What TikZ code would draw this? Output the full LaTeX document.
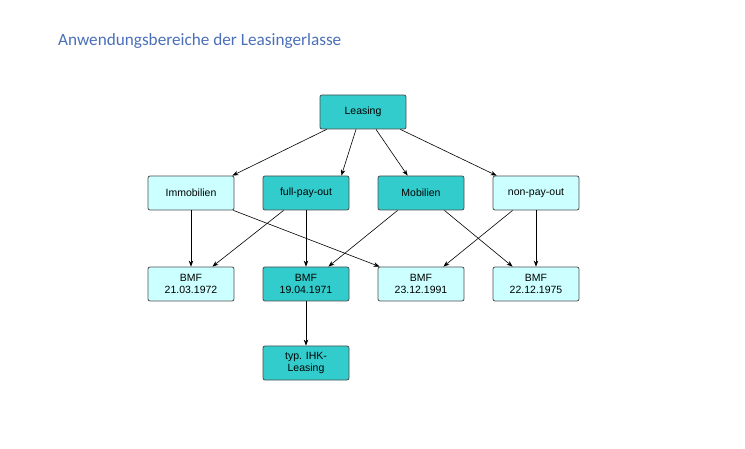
\documentclass[tikz,border=0pt]{standalone}
\usepackage{fontspec}
\setmainfont{Liberation Sans}
\newfontfamily\titlefont{Carlito}
\usepackage{xcolor}
\usetikzlibrary{arrows.meta,calc}
\definecolor{tealbox}{HTML}{33CCCC}
\definecolor{cyanbox}{HTML}{CCFFFF}
\definecolor{titleblue}{HTML}{4A6FB8}
\definecolor{rimgray}{HTML}{4D4D4D}

\begin{document}
\begin{tikzpicture}[x=1pt, y=-1pt,
    box/.style={draw=rimgray, line width=0.8pt, rounded corners=2pt,
      minimum width=86pt, minimum height=34pt, inner sep=1pt,
      align=center, font=\fontsize{10.5}{12.5}\selectfont},
    dark/.style={box, fill=tealbox},
    light/.style={box, fill=cyanbox},
    link/.style={-{Stealth[length=6pt,width=4.5pt]}, line width=0.6pt}]
    \useasboundingbox (0,0) rectangle (745,449);
    % title
    \node [anchor=base west, inner sep=0pt, text=titleblue,
      font=\titlefont\fontsize{17.2}{20}\selectfont] (title) at (58,46)
      {Anwendungsbereiche der Leasingerlasse};
    % boxes
    \node [dark] (leasing) at (363,112) {Leasing};
    \node [light] (immo) at (191,193) {Immobilien};
    \node [dark] (fpo) at (306,193) {full-pay-out};
    \node [dark] (mobil) at (421,193) {Mobilien};
    \node [light] (npo) at (536,193) {non-pay-out};
    \node [light] (bmfa) at (191,284) {BMF\\21.03.1972};
    \node [dark] (bmfb) at (306,284) {BMF\\19.04.1971};
    \node [light] (bmfc) at (421,284) {BMF\\23.12.1991};
    \node [light] (bmfd) at (536,284) {BMF\\22.12.1975};
    \node [dark] (ihk) at (306,363) {typ. IHK-\\Leasing};
    % arrows
    \draw [link] ($(leasing.south west)+(7,0)$) -- ($(immo.north east)+(-2,0)$);
    \draw [link] ($(leasing.south)+(-7,0)$) -- ($(fpo.north east)+(-8,0)$);
    \draw [link] ($(leasing.south)+(13,0)$) -- ($(mobil.north west)+(30,0)$);
    \draw [link] ($(leasing.south east)+(-6,0)$) -- ($(npo.north west)+(4,0)$);
    \draw [link] (immo.south) -- (bmfa.north);
    \draw [link] ($(immo.south east)+(-1,0)$) -- ($(bmfc.north west)+(2,0)$);
    \draw [link] ($(fpo.south west)+(21,0)$) -- ($(bmfa.north east)+(-22,0)$);
    \draw [link] (fpo.south) -- (bmfb.north);
    \draw [link] ($(mobil.south west)+(20,0)$) -- ($(bmfb.north east)+(-21,0)$);
    \draw [link] ($(mobil.south east)+(-20,0)$) -- ($(bmfd.north west)+(20,0)$);
    \draw [link] ($(npo.south west)+(20,0)$) -- ($(bmfc.north east)+(-21,0)$);
    \draw [link] (npo.south) -- (bmfd.north);
    \draw [link] (bmfb.south) -- (ihk.north);
\end{tikzpicture}
\end{document}
